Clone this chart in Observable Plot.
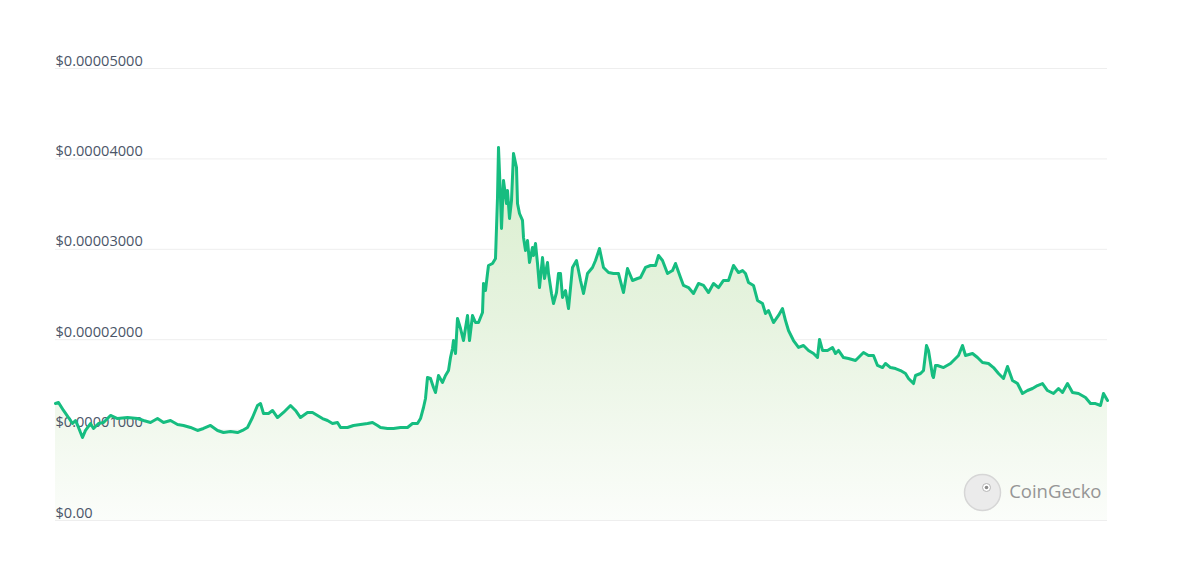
<!DOCTYPE html>
<html>
<head>
<meta charset="utf-8">
<script src="https://cdn.jsdelivr.net/npm/d3@7"></script>
<script src="https://cdn.jsdelivr.net/npm/@observablehq/plot@0.6"></script>
<style>
  html, body { margin: 0; padding: 0; background: #ffffff; }
  #chart svg { display: block; }
</style>
</head>
<body>
<div id="chart"></div>
<script>
// Day offsets from the start of the range
const days = [
  0,3,8,13,17,20,23,27,30,35,38,43,48,55,62,72,82,88,95,102,108,115,122,128,135,142,148,155,162,168,175,182,187,
  192,197,202,205,208,213,217,222,228,235,240,245,252,257,262,267,272,277,282,285,292,298,305,312,317,322,325,332,338,345,352,357,362,365,368,
  370,372,375,378,380,383,387,390,393,395,397,398,400,402,405,408,412,414,417,420,423,427,428,430,432,433,437,440,
  442,443,445,446,448,451,452,454,456,458,461,462,464,467,468,470,472,474,477,478,480,482,484,487,489,492,493,496,498,501,503,
  505,507,510,513,517,521,525,528,532,537,540,544,548,553,558,563,568,572,577,582,585,590,595,600,603,607,612,617,620,625,628,
  633,638,643,648,653,658,663,668,673,678,683,687,690,693,698,702,707,710,713,718,723,727,730,733,738,743,748,753,758,762,764,
  767,772,777,780,783,788,793,800,805,808,813,818,822,827,830,835,840,845,850,853,858,860,865,868,871,873,877,878,880,882,888,
  895,900,903,907,910,917,922,927,933,938,943,948,952,957,962,967,972,977,982,987,992,998,1003,1007,1012,1017,1023,1030,1035,1040,1045,1048,1052
];
// Price in units of $0.00001
const prices = [
  1.294,1.305,1.217,1.139,1.073,1.106,1.029,0.918,0.996,1.073,1.018,1.073,1.084,1.162,1.128,1.139,1.128,1.106,1.084,1.128,1.084,1.106,1.062,1.051,1.029,0.996,1.018,1.051,0.996,0.973,0.985,0.973,0.996,
  1.029,1.139,1.272,1.294,1.184,1.184,1.217,1.139,1.195,1.272,1.217,1.139,1.195,1.195,1.162,1.128,1.106,1.073,1.084,1.029,1.029,1.051,1.062,1.073,1.084,1.051,1.029,1.018,1.018,1.029,1.029,1.073,1.073,1.128,1.250,
  1.350,1.582,1.571,1.471,1.416,1.604,1.527,1.604,1.659,1.803,1.903,1.991,1.847,2.235,2.124,1.991,2.268,1.991,2.268,2.190,2.190,2.301,2.622,2.544,2.732,2.821,2.843,2.898,
  3.573,4.126,3.573,3.230,3.761,3.507,3.650,3.341,3.540,4.060,3.905,3.507,3.396,3.319,3.131,2.987,3.097,2.854,3.020,2.931,3.064,2.843,2.577,2.909,2.677,2.854,2.732,2.511,2.400,2.522,2.732,
  2.732,2.467,2.544,2.345,2.799,2.876,2.655,2.511,2.732,2.799,2.876,3.009,2.799,2.743,2.732,2.732,2.522,2.788,2.655,2.677,2.688,2.799,2.821,2.821,2.931,2.876,2.732,2.765,2.843,2.688,2.600,
  2.577,2.511,2.622,2.600,2.522,2.622,2.577,2.655,2.655,2.821,2.743,2.765,2.732,2.633,2.600,2.434,2.400,2.290,2.323,2.190,2.268,2.345,2.212,2.102,1.991,1.914,1.936,1.881,1.847,1.803,2.002,
  1.881,1.881,1.914,1.847,1.881,1.803,1.792,1.770,1.825,1.858,1.825,1.825,1.715,1.692,1.737,1.692,1.681,1.659,1.626,1.571,1.515,1.604,1.626,1.659,1.936,1.881,1.604,1.582,1.715,1.715,1.692,
  1.737,1.792,1.825,1.936,1.825,1.847,1.803,1.748,1.737,1.692,1.626,1.571,1.704,1.549,1.515,1.405,1.438,1.460,1.493,1.515,1.438,1.405,1.460,1.416,1.515,1.416,1.405,1.361,1.294,1.294,1.272,1.405,1.327
];
// Y axis ticks (units of $0.00001)
const yTicks = [0, 1, 2, 3, 4, 5];
const yTickLabels = ["$0.00", "$0.00001000", "$0.00002000", "$0.00003000", "$0.00004000", "$0.00005000"];

const data = days.map((d, i) => ({day: d, price: prices[i]}));
const ticks = yTicks.map((v, i) => ({v, label: yTickLabels[i]}));

const chart = Plot.plot({
  width: 1200,
  height: 579,
  marginLeft: 55,
  marginRight: 93,
  marginTop: 68,
  marginBottom: 59,
  style: {fontFamily: "'Open Sans', sans-serif", background: "#ffffff"},
  x: {axis: null, domain: [0, 1052]},
  y: {axis: null, domain: [0, 5]},
  marks: [
    Plot.ruleY(ticks, {y: "v", stroke: "#eeeeee", strokeWidth: 1}),
    Plot.areaY(data, {x: "day", y: "price", fill: "url(#cgGrad)"}),
    Plot.text(ticks, {y: "v", text: "label", frameAnchor: "left", textAnchor: "start", lineAnchor: "bottom", dy: -3, fontSize: 14.6, fill: "#4a5568"}),
    Plot.line(data, {x: "day", y: "price", stroke: "#16bd80", strokeWidth: 3, strokeLinejoin: "round"}),
    Plot.dot([0], {frameAnchor: "bottom-right", dx: -125, dy: -28, r: 18, fill: "#ebebeb", stroke: "#d6d6d6", strokeWidth: 1.5}),
    Plot.dot([0], {frameAnchor: "bottom-right", dx: -121, dy: -33, r: 4, fill: "#ffffff", stroke: "#b5b5b5", strokeWidth: 1}),
    Plot.dot([0], {frameAnchor: "bottom-right", dx: -121, dy: -33, r: 1.8, fill: "#8a8a8a"}),
    Plot.text(["CoinGecko"], {frameAnchor: "bottom-right", dx: -6, dy: -28, textAnchor: "end", lineAnchor: "middle", fontSize: 18.5, fill: "#959595"})
  ]
});

// gradient definition for the area fill
const ns = "http://www.w3.org/2000/svg";
const defs = document.createElementNS(ns, "defs");
const grad = document.createElementNS(ns, "linearGradient");
grad.setAttribute("id", "cgGrad");
grad.setAttribute("x1", "0"); grad.setAttribute("y1", "0");
grad.setAttribute("x2", "0"); grad.setAttribute("y2", "1");
[["0%", "#d9eecd"], ["45%", "#e6f3df"], ["100%", "#fbfdfa"]].forEach(([o, c]) => {
  const s = document.createElementNS(ns, "stop");
  s.setAttribute("offset", o);
  s.setAttribute("stop-color", c);
  grad.appendChild(s);
});
defs.appendChild(grad);
chart.insertBefore(defs, chart.firstChild);

document.getElementById("chart").appendChild(chart);
</script>
</body>
</html>
